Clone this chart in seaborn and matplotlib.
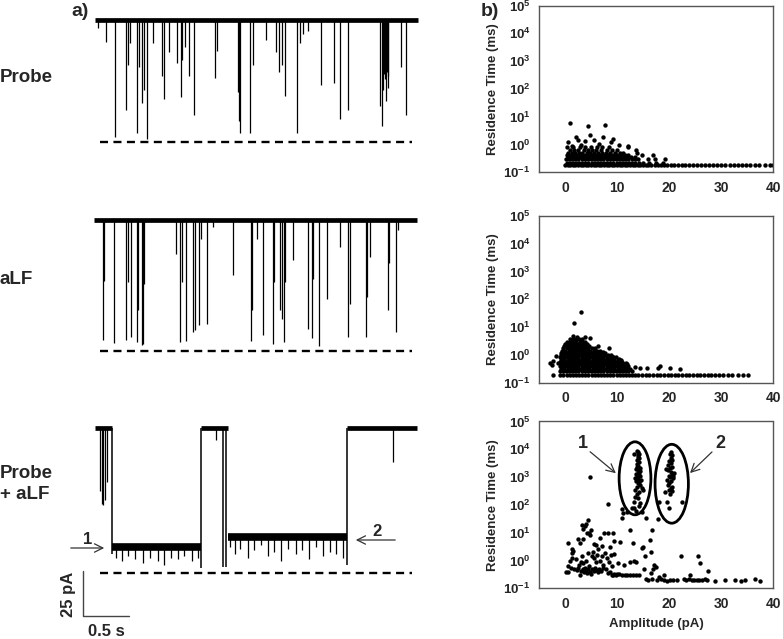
import numpy as np
import pandas as pd
import matplotlib
matplotlib.use("Agg")
import matplotlib.pyplot as plt
from matplotlib.patches import Ellipse
import seaborn as sns

# ---------------- a) current traces ----------------
# time (s) and depth of each blockade below the open level (pA)
probe_spike_t = [0.036, 0.12, 0.217, 0.333, 0.355, 0.38, 0.453, 0.482, 0.507, 0.533,
                 0.562, 0.627, 0.725, 0.754, 0.804, 0.888, 0.935, 0.949, 0.978, 1.02,
                 1.08, 1.30, 1.33, 1.56, 1.58, 1.68, 1.72, 1.86, 1.97, 2.00,
                 2.03, 2.07, 2.20, 2.23, 2.26, 2.32, 2.46, 2.60, 2.66, 2.75,
                 3.10, 3.12, 3.13, 3.16, 3.19, 3.33, 3.38,
                 1.555, 1.57, 3.14, 3.15, 3.17, 3.18]
probe_spike_depth = [4.6, 12, 65, 50, 25, 13, 63, 26, 46, 39,
                     66, 13, 31, 44, 18, 24, 43, 22, 15, 31,
                     53, 32, 17, 56, 63, 63, 25, 11, 18, 29,
                     25, 42, 63, 13, 8, 6, 36, 35, 55, 50,
                     48, 59, 39, 45, 38, 26, 53,
                     40, 35, 30, 33, 29, 31]

alf_spike_t = [0.083, 0.098, 0.21, 0.337, 0.362, 0.388, 0.453, 0.471, 0.507, 0.525,
               0.536, 0.88, 0.924, 0.942, 0.986, 1.07, 1.087, 1.13, 1.152, 1.217,
               1.286, 1.497, 1.692, 1.71, 1.757, 1.83, 1.938, 1.946, 2.01, 2.03,
               2.054, 2.069, 2.156, 2.32, 2.355, 2.373, 2.438, 2.518, 2.663, 2.753,
               2.772, 2.946, 2.96, 2.99, 3.188, 3.199, 3.27, 3.297]
alf_spike_depth = [67, 34, 68.5, 66.7, 34.6, 65.2, 68, 50.4, 69.8, 68.9,
                   35.6, 18.9, 68, 34.6, 67.6, 62.4, 61.5, 58.7, 10.6, 58.1,
                   4.1, 30.9, 67.4, 50.4, 10.6, 64.3, 68.9, 34.6, 50.4, 55,
                   68, 34.6, 22.6, 60.6, 66.1, 32.8, 70.4, 43.9, 15.2, 65.2,
                   46.7, 65.2, 42.9, 20.7, 50.4, 24.4, 62.4, 5.9]

combo_seg_start = [0.0, 0.188, 1.152, 1.442, 2.736]
combo_seg_end = [0.188, 1.152, 1.442, 2.736, 3.50]
combo_seg_depth = [0, 66, 0, 60.7, 0]
combo_jump_t = [0.188, 1.152, 1.388, 1.424, 2.736]
combo_jump_depth = [70, 78, 77, 77, 76]
combo_spike_t = [0.054, 0.072, 0.09, 0.109, 0.127, 1.315, 3.236,
                 0.23, 0.29, 0.36, 0.44, 0.52, 0.60, 0.68, 0.75, 0.83, 0.90, 0.97, 1.05, 1.12,
                 1.47, 1.52, 1.58, 1.66, 1.73, 1.80, 1.88, 1.95, 2.02, 2.10, 2.18, 2.25,
                 2.33, 2.40, 2.48, 2.55, 2.62, 2.70]
combo_spike_depth = [35, 42, 43, 40, 30, 6.7, 18.7,
                     72, 74, 71, 73, 75, 72, 74, 76, 72, 73, 71, 74, 72,
                     66, 70, 67, 72, 68, 65, 71, 69, 74, 67, 70, 68,
                     73, 66, 71, 69, 70, 72]

trace_start = [0.0, -0.01, 0.0]
trace_end = [3.51, 3.50, 3.50]
block_level = [67.6, 73.0, 80.4]
scale_time = 0.5    # s
scale_current = 25  # pA

# ---------------- b) residence time vs amplitude ----------------
amp_ticks = [0, 10, 20, 30, 40]
rt_ticks = [1e-1, 1e0, 1e1, 1e2, 1e3, 1e4, 1e5]
rt_tick_labels = [r'$\mathbf{10^{-1}}$', r'$\mathbf{10^{0}}$', r'$\mathbf{10^{1}}$',
                  r'$\mathbf{10^{2}}$', r'$\mathbf{10^{3}}$', r'$\mathbf{10^{4}}$',
                  r'$\mathbf{10^{5}}$']

# Probe: dense rows of events plus scattered ones
probe_rows_rt = [0.19, 0.21, 0.30, 0.35, 0.42, 0.50, 0.62, 0.78]
probe_rows_amp = [
    [0.0, 0.5, 1.0, 1.5, 2.0, 2.5, 3.0, 3.5, 4.0, 4.5, 5.0, 5.5, 6.0, 6.5, 7.0, 7.5,
     8.0, 8.5, 9.0, 9.5, 10.0, 10.5, 11.0, 11.5, 12.0, 12.5, 13.0, 13.5, 14.0, 14.5,
     15.0, 15.5, 16.0, 16.6, 17.2, 17.8, 18.4, 19.0, 19.6, 20.3, 21.0, 21.7, 22.4,
     23.1, 23.8, 24.6, 25.4, 26.1, 26.9, 27.6, 28.4, 29.2, 30.0, 30.8, 31.6, 32.4,
     33.2, 34.0, 34.8, 35.6, 36.4, 37.3, 38.5, 39.3, 39.9],
    [0.3, 0.9, 1.5, 2.1, 2.7, 3.3, 3.9, 4.5, 5.1, 5.7, 6.3, 6.9, 7.5, 8.1, 8.7, 9.3,
     9.9, 10.5, 11.1, 11.7, 12.3, 12.9, 13.5, 14.2, 15.0, 16.2, 17.5, 18.8],
    [0.2, 0.8, 1.4, 2.0, 2.6, 3.2, 3.8, 4.4, 5.0, 5.6, 6.2, 6.8, 7.4, 8.0, 8.6, 9.2,
     9.8, 10.4, 11.0, 11.6, 12.2, 12.8, 13.4, 14.0, 16.0, 17.3, 19.2],
    [0.5, 1.1, 1.7, 2.3, 2.9, 3.5, 4.1, 4.7, 5.3, 5.9, 6.5, 7.1, 7.7, 8.3, 8.9, 9.5,
     10.1, 10.7, 11.3, 11.9, 12.6, 13.5],
    [0.3, 1.0, 1.6, 2.2, 2.8, 3.4, 4.0, 4.6, 5.2, 5.8, 6.4, 7.0, 7.6, 8.2, 8.8, 9.4,
     10.0, 10.8, 11.5, 12.2, 14.7, 17.0],
    [0.6, 1.4, 2.0, 2.7, 3.3, 4.2, 4.9, 5.5, 6.3, 7.1, 7.8, 8.7, 9.6, 10.5, 11.2, 13.8],
    [0.9, 1.8, 2.6, 3.6, 4.4, 5.2, 6.0, 6.9, 8.0, 9.0, 10.0],
    [0.4, 1.6, 2.9, 3.8, 5.0, 6.1, 7.2, 8.5, 12.2],
]
probe_extra_amp = [1.0, 4.4, 7.6, 4.9, 7.4, 2.1, 2.6, 9.3, 0.5, 10.4,
                   12.2, 13.6, 3.8, 5.6, 8.8, 6.6, 3.1, 1.3]
probe_extra_rt = [5.9, 4.5, 5.1, 2.2, 1.9, 1.9, 1.5, 1.55, 1.2, 0.95,
                  0.9, 0.65, 1.3, 1.4, 1.2, 1.05, 0.95, 0.9]

# aLF
alf_rows_rt = [0.19, 0.27, 0.32, 0.38, 0.46, 0.55, 0.66, 0.8, 0.95, 1.15, 1.4, 1.7,
               2.05, 2.5, 3.0, 3.6]
alf_rows_amp = [
    [-2.2, -0.9, -0.3, 0.3, 0.9, 1.5, 2.1, 2.7, 3.3, 3.9, 4.5, 5.1, 5.7, 6.3, 6.9, 7.5,
     8.1, 8.7, 9.3, 9.9, 10.5, 11.1, 11.7, 12.3, 12.9, 13.5, 14.1, 14.8, 15.5, 16.2,
     16.9, 17.6, 18.3, 19.0, 19.7, 20.4, 21.1, 21.8, 22.5, 23.2, 23.9, 24.6, 25.3,
     26.0, 26.7, 27.4, 28.1, 28.8, 29.6, 30.4, 31.3, 32.1, 33.2, 34.2, 35.2],
    [-1.0, -0.4, 0.2, 0.8, 1.4, 2.0, 2.6, 3.2, 3.8, 4.4, 5.0, 5.6, 6.2, 6.8, 7.4, 8.0,
     8.6, 9.2, 9.8, 10.4, 11.0, 11.6, 12.2, 12.8],
    [-0.7, -0.1, 0.5, 1.1, 1.7, 2.3, 2.9, 3.5, 4.1, 4.7, 5.3, 5.9, 6.5, 7.1, 7.7, 8.3,
     8.9, 9.5, 10.1, 10.7, 11.3, 11.9, 12.5],
    [-1.0, -0.4, 0.2, 0.8, 1.4, 2.0, 2.6, 3.2, 3.8, 4.4, 5.0, 5.6, 6.2, 6.8, 7.4, 8.0,
     8.6, 9.2, 9.8, 10.4, 11.0, 11.6, 12.2],
    [-0.7, -0.1, 0.5, 1.1, 1.7, 2.3, 2.9, 3.5, 4.1, 4.7, 5.3, 5.9, 6.5, 7.1, 7.7, 8.3,
     8.9, 9.5, 10.1, 10.7, 11.3, 11.9],
    [-1.0, -0.4, 0.2, 0.8, 1.4, 2.0, 2.6, 3.2, 3.8, 4.4, 5.0, 5.6, 6.2, 6.8, 7.4, 8.0,
     8.6, 9.2, 9.8, 10.4, 11.0],
    [-0.7, -0.1, 0.5, 1.1, 1.7, 2.3, 2.9, 3.5, 4.1, 4.7, 5.3, 5.9, 6.5, 7.1, 7.7, 8.3,
     8.9, 9.5, 10.1, 10.7],
    [-1.0, -0.4, 0.2, 0.8, 1.4, 2.0, 2.6, 3.2, 3.8, 4.4, 5.0, 5.6, 6.2, 6.8, 7.4, 8.0,
     8.6, 9.2, 9.8],
    [-0.7, -0.1, 0.5, 1.1, 1.7, 2.3, 2.9, 3.5, 4.1, 4.7, 5.3, 5.9, 6.5, 7.1, 7.7, 8.3, 8.9],
    [-0.8, -0.2, 0.4, 1.0, 1.6, 2.2, 2.8, 3.4, 4.0, 4.6, 5.2, 5.8, 6.4, 7.0, 7.6],
    [-0.5, 0.1, 0.7, 1.3, 1.9, 2.5, 3.1, 3.7, 4.3, 4.9, 5.5, 6.1, 6.7],
    [-0.3, 0.3, 0.9, 1.5, 2.1, 2.7, 3.3, 3.9, 4.5, 5.1, 5.7],
    [-0.1, 0.5, 1.1, 1.7, 2.3, 2.9, 3.5, 4.1, 4.7],
    [0.1, 0.7, 1.3, 1.9, 2.5, 3.1, 3.7, 4.3],
    [0.4, 1.0, 1.6, 2.2, 2.8, 3.4, 3.9],
    [0.9, 1.5, 2.1, 2.7, 3.3],
]
alf_extra_amp = [3.0, 1.8, -2.9, -2.5, -1.3, 1.5, 2.4, 3.8, 4.8, 6.4,
                 8.5, 7.3, 9.2, 10.4, 11.8, 13.4, 14.5, 15.7, 18.2, 17.8,
                 20.1, 22.0, -1.8, -2.2]
alf_extra_rt = [35, 14.5, 0.5, 0.43, 0.5, 4.8, 4.4, 4.2, 3.9, 2.0,
                1.8, 1.3, 0.8, 0.7, 0.5, 0.35, 0.33, 0.33, 0.4, 0.33,
                0.33, 0.3, 0.9, 0.6]

# Probe + aLF
combo_low_amp = [0.2, 0.6, 1.2, 1.8, 2.3, 2.6, 2.9, 3.1, 3.4, 3.6,
                 3.8, 4.0, 4.3, 4.5, 4.8, 5.0, 5.2, 5.5, 5.8, 6.0,
                 6.3, 6.6, 7.0, 7.4, 7.8, 8.2, 8.6, 9.0, 9.4, 9.8,
                 10.3, 11.0, 11.5, 12.0, 12.5, 13.0, 13.6, 14.2, 9.2, 10.0]
combo_low_rt = [0.40, 0.40, 0.55, 0.50, 0.45, 0.52, 0.30, 0.42, 0.50, 0.40,
                0.55, 0.45, 0.35, 0.48, 0.40, 0.32, 0.50, 0.42, 0.55, 0.45,
                0.38, 0.50, 0.42, 0.55, 0.48, 0.35, 0.40, 0.30, 0.32, 0.30,
                0.32, 0.30, 0.31, 0.30, 0.31, 0.30, 0.31, 0.30, 0.30, 0.33]
combo_mid_amp = [0.6, 1.0, 1.3, 1.4, 1.6, 2.2, 2.7, 3.0, 3.3, 3.5,
                 4.1, 4.4, 4.6, 5.1, 5.3, 5.6, 5.9, 6.1, 6.4, 6.8,
                 7.1, 7.3, 7.7, 8.0, 8.4, 8.8, 9.1, 9.5, 10.2, 11.3,
                 12.5, 13.3, 15.4, 17.1, 17.4, 17.0, 15.2, 16.6]
combo_mid_rt = [0.65, 1.0, 1.2, 1.8, 2.2, 1.1, 0.7, 0.9, 1.4, 0.8,
                1.0, 1.8, 0.65, 1.5, 2.0, 1.2, 0.9, 1.6, 2.5, 1.0,
                1.4, 0.7, 1.9, 1.2, 0.9, 1.6, 0.65, 1.7, 0.8, 0.7,
                0.9, 1.0, 1.4, 0.7, 0.6, 0.5, 0.5, 0.35]
combo_high_amp = [0.5, 1.3, 2.6, 2.8, 3.2, 3.8, 4.5, 4.2, 4.7, 4.9,
                  3.5, 5.5, 6.0, 6.8, 7.5, 8.2, 9.2, 9.5, 8.6, 7.2,
                  5.0, 4.0, 3.4, 10.5, 12.5, 13.1, 14.7, 15.0, 16.7, 16.3,
                  13.6, 12.0, 10.9, 11.2, 11.0, 8.2, 4.9, 17.9, 18.1, 22.4,
                  15.6, 16.5]
combo_high_rt = [4.4, 2.5, 5.8, 4.4, 19, 17, 29, 10, 10, 8,
                 6.0, 4.0, 3.5, 6.5, 10, 10, 10, 5.0, 3.0, 3.2,
                 12, 20, 14, 4.5, 13, 4.2, 2.8, 3.0, 13, 5.5,
                 0.9, 55, 70, 50, 35, 110, 1000, 30, 130, 130,
                 35, 2.0]
combo_right_amp = [15.5, 16.0, 16.8, 17.6, 18.5, 19.0, 19.6, 20.2, 20.8, 21.5,
                   22.8, 23.3, 23.8, 24.3, 24.8, 25.3, 25.8, 26.3, 26.8, 27.3,
                   28.8, 30.8, 32.6, 33.8, 34.5, 36.4, 37.4, 24.0, 27.5, 26.0,
                   25.6, 22.2, 19.0, 18.0]
combo_right_rt = [0.22, 0.20, 0.21, 0.20, 0.22, 0.20, 0.19, 0.20, 0.20, 0.20,
                  0.22, 0.20, 0.21, 0.20, 0.20, 0.20, 0.20, 0.20, 0.21, 0.20,
                  0.19, 0.20, 0.20, 0.19, 0.20, 0.22, 0.19, 0.30, 0.42, 0.8,
                  1.4, 1.5, 0.3, 0.25]
group1_amp = [13.2, 13.9, 14.1, 14.0, 14.2, 13.9, 14.3, 13.8, 14.1, 14.4,
              13.7, 14.0, 14.3, 13.6, 14.2, 14.5, 13.9, 13.4, 14.1, 14.6,
              13.7, 14.3, 14.0, 14.4, 13.8, 14.7, 13.5, 14.2, 14.9, 13.9,
              13.4, 14.1, 13.2, 14.4, 13.3, 14.3, 12.8, 13.6, 14.7, 14.0,
              14.2, 13.9, 14.5, 14.0]
group1_rt = [7000, 9000, 8000, 6000, 5000, 4200, 3500, 3000, 2600, 2200,
             2000, 1800, 1500, 1300, 1200, 1100, 1000, 900, 850, 800,
             700, 650, 600, 520, 450, 400, 350, 300, 350, 250,
             200, 170, 130, 120, 75, 90, 80, 60, 55, 5200,
             7000, 2400, 1700, 1400]
group2_amp = [20.4, 20.2, 20.5, 20.3, 20.6, 20.0, 20.4, 19.8, 20.5, 20.1,
              19.7, 20.3, 20.6, 19.9, 20.2, 20.7, 19.6, 20.4, 20.0, 19.8,
              20.5, 20.3, 19.9, 20.6, 19.2, 20.1, 20.0, 19.5, 21.0, 20.8,
              19.4]
group2_rt = [8000, 7000, 6000, 5000, 4200, 3800, 3200, 2800, 2400, 2100,
             1800, 1500, 1300, 1100, 1000, 900, 800, 700, 600, 500,
             450, 400, 350, 320, 280, 250, 80, 130, 1400, 1100,
             1900]
# ellipses around the two populations (amplitude range, residence-time range)
group_amp_range = [(10.4, 16.5), (17.3, 23.7)]
group_rt_range = [(44, 18600), (22, 15100)]


def rows_frame(rows_rt, rows_amp, extra_amp, extra_rt):
    amp, rt = [], []
    for r, row in zip(rows_rt, rows_amp):
        amp += row
        rt += [r] * len(row)
    return pd.DataFrame({'amp': amp + list(extra_amp), 'rt': rt + list(extra_rt)})


probe_df = rows_frame(probe_rows_rt, probe_rows_amp, probe_extra_amp, probe_extra_rt)
alf_df = rows_frame(alf_rows_rt, alf_rows_amp, alf_extra_amp, alf_extra_rt)
combo_df = pd.DataFrame({
    'amp': combo_low_amp + combo_mid_amp + combo_high_amp + combo_right_amp + group1_amp + group2_amp,
    'rt': combo_low_rt + combo_mid_rt + combo_high_rt + combo_right_rt + group1_rt + group2_rt,
})

# ---------------- figure ----------------
sns.set_style('white')
plt.rcParams['font.family'] = ['Liberation Sans', 'DejaVu Sans']
plt.rcParams['font.weight'] = 'bold'
plt.rcParams['axes.labelweight'] = 'bold'
plt.rcParams['mathtext.fontset'] = 'custom'
plt.rcParams['mathtext.rm'] = 'Liberation Sans:weight=bold'
plt.rcParams['mathtext.it'] = 'Liberation Sans:weight=bold'
plt.rcParams['mathtext.bf'] = 'Liberation Sans:weight=bold'

W, H = 783, 639
fig = plt.figure(figsize=(W / 100, H / 100), dpi=100)


def fpos(px, py):
    return px / W, 1 - py / H


PX_PER_PA = 1.8
X_LIM = (-0.598, 3.587)


def trace_axes(baseline_px, ylo):
    top = baseline_px - 10 * PX_PER_PA
    h = (10 - ylo) * PX_PER_PA
    ax = fig.add_axes([40 / W, 1 - (top + h) / H, 385 / W, h / H])
    ax.set_xlim(*X_LIM)
    ax.set_ylim(ylo, 10)
    ax.axis('off')
    return ax


ax_t1 = trace_axes(20, -85)
ax_t2 = trace_axes(219.5, -85)
ax_t3 = trace_axes(428, -116)

dash = dict(color='black', lw=1.7, linestyle=(0, (3.4, 2.3)))
for ax, t, d, i in [(ax_t1, probe_spike_t, probe_spike_depth, 0),
                    (ax_t2, alf_spike_t, alf_spike_depth, 1)]:
    ax.plot([trace_start[i], trace_end[i]], [0, 0], color='black', lw=3.4,
            solid_capstyle='butt')
    ax.vlines(t, 0, -np.array(d), color='black', lw=0.9)
    ax.plot([0.05, 3.45], [-block_level[i]] * 2, **dash)

for s, e, d in zip(combo_seg_start, combo_seg_end, combo_seg_depth):
    ax_t3.plot([s, e], [-d, -d], color='black', lw=3.4 if d == 0 else 5.5,
               solid_capstyle='butt')
ax_t3.vlines(combo_jump_t, 0, -np.array(combo_jump_depth), color='black', lw=1.1)
for t, d in zip(combo_spike_t, combo_spike_depth):
    k = np.searchsorted(combo_seg_end, t)
    ax_t3.vlines(t, -combo_seg_depth[k], -d, color='black', lw=0.9)
ax_t3.plot([0.05, 3.45], [-block_level[2]] * 2, **dash)

# scale bar
sb_t, sb_y = -0.127, -104.3
ax_t3.plot([sb_t, sb_t, sb_t + scale_time], [sb_y + scale_current, sb_y, sb_y],
           color='#444444', lw=1.0, clip_on=False)
fig.text(*fpos(69, 594), '25 pA', rotation=90, ha='center', va='center', fontsize=12)
fig.text(*fpos(106, 631), '0.5 s', ha='center', va='center', fontsize=12)

fig.text(*fpos(80, 12), 'a)', ha='center', va='center', fontsize=14)
fig.text(*fpos(490, 12), 'b)', ha='center', va='center', fontsize=14)
fig.text(*fpos(0, 78), 'Probe', ha='left', va='center', fontsize=13.5)
fig.text(*fpos(0, 280), 'aLF', ha='left', va='center', fontsize=13.5)
fig.text(*fpos(0, 484), 'Probe\n+ aLF', ha='left', va='center', fontsize=13.5,
         linespacing=1.25)

arrow = dict(arrowstyle='->,head_length=0.6,head_width=0.3', color='#333333', lw=0.9)
for txt, tpos, a_from, a_to in [('1', (88, 539), (68, 548), (107, 548)),
                                ('2', (377, 531), (398, 540), (353, 540))]:
    fig.text(*fpos(*tpos), txt, ha='center', va='center', fontsize=12)
    ax_t3.annotate('', xy=fpos(*a_to), xycoords='figure fraction',
                   xytext=fpos(*a_from), textcoords='figure fraction', arrowprops=arrow)

# scatter panels
panel_top = [5.5, 215.8, 421.5]
panel_h = 166.8
scatter_axes = []
for top, df in zip(panel_top, [probe_df, alf_df, combo_df]):
    ax = fig.add_axes([538.9 / W, 1 - (top + panel_h) / H, 234.4 / W, panel_h / H])
    sns.scatterplot(data=df, x='amp', y='rt', ax=ax, color='black', s=10,
                    linewidth=0, legend=False)
    ax.set_yscale('log')
    ax.set_xlim(-5, 40)
    ax.set_ylim(0.1, 1e5)
    ax.set_yticks(rt_ticks)
    ax.set_yticklabels(rt_tick_labels)
    ax.minorticks_off()
    ax.set_xticks(amp_ticks)
    ax.set_xticklabels([str(v) for v in amp_ticks])
    ax.tick_params(axis='x', labelsize=10, length=3, width=0.9, color='#555555', pad=3)
    ax.tick_params(axis='y', labelsize=9.5, length=3, width=0.9, color='#555555', pad=3)
    for lbl in ax.get_xticklabels() + ax.get_yticklabels():
        lbl.set_fontweight('bold')
    for sp in ax.spines.values():
        sp.set_color('#555555')
        sp.set_linewidth(1.0)
    ax.set_xlabel('')
    ax.set_ylabel('Residence Time (ms)', fontsize=9.5, fontweight='bold', labelpad=3)
    scatter_axes.append(ax)

ax3 = scatter_axes[2]
ax3.set_xlabel('Amplitude (pA)', fontsize=9.5, fontweight='bold', labelpad=5)
to_axes = ax3.transScale + ax3.transLimits
for (a0, a1), (r0, r1) in zip(group_amp_range, group_rt_range):
    (x0, y0), (x1, y1) = to_axes.transform([(a0, r0), (a1, r1)])
    ax3.add_patch(Ellipse(((x0 + x1) / 2, (y0 + y1) / 2), x1 - x0, y1 - y0,
                          transform=ax3.transAxes, fill=False, edgecolor='black', lw=2.0))
for txt, tpos, a_from, a_to in [('1', (583, 443), (588, 450), (618, 475)),
                                ('2', (720, 443), (714, 450), (688, 475))]:
    fig.text(*fpos(*tpos), txt, ha='center', va='center', fontsize=13)
    ax3.annotate('', xy=fpos(*a_to), xycoords='figure fraction',
                 xytext=fpos(*a_from), textcoords='figure fraction', arrowprops=arrow)

fig.savefig('out.png', dpi=100)
